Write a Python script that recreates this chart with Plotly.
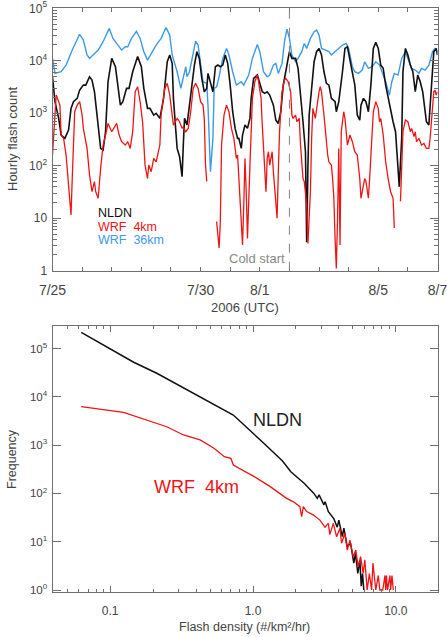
import pandas as pd
import plotly.graph_objects as go

# ---------------- data: top panel (hours since 2006-07-25 00 UTC, hourly flash count) -------------
blue_hours = [0, 2, 7, 11, 16, 20, 22, 25, 28, 30,
              33, 37, 41, 46, 49, 53, 56, 59, 61, 64,
              68, 71, 74, 77, 80, 84, 88, 92, 95, 97,
              101, 104, 108, 109, 111, 114, 116, 118, 120, 122,
              125, 126, 128, 130, 131, 133, 135, 138, 141, 143,
              146, 149, 153, 155, 159, 162, 166, 168, 171, 174,
              176, 179, 181, 183, 186, 188, 190, 192, 194, 197,
              199, 202, 204, 206, 209, 212, 214, 216, 218, 221,
              224, 226, 229, 232, 235, 238, 240, 243, 245, 248,
              251, 253, 256, 259, 262, 265, 267, 270, 273, 275,
              277, 280, 283, 286, 288, 291, 294, 297, 299, 302,
              305, 308, 310, 312]
blue_counts = [11100, 5750, 6180, 8280, 16000, 26700, 32000, 24900, 12900, 11100,
               12900, 16000, 23100, 41400, 26700, 19900, 16000, 18500, 18500, 26700,
               36500, 26700, 14900, 10300, 13900, 19900, 26700, 43000, 30900, 12900,
               6180, 2980, 7700, 4970, 6180, 13900, 23700, 19900, 9590, 3990,
               3710, 1430, 77, 332, 2980, 3200, 4970, 11100, 17200, 12900,
               6180, 3440, 3990, 3440, 5350, 11100, 20500, 14900, 6180, 4970,
               5350, 8280, 8920, 5750, 8920, 23100, 40000, 26700, 12900, 9590,
               11100, 14900, 21400, 17200, 26700, 35700, 38400, 30900, 17200, 16000,
               14900, 12900, 14900, 17200, 19900, 21400, 17200, 7700, 6180, 5750,
               6650, 9590, 7160, 7700, 9590, 8280, 6180, 3990, 2220, 3990,
               5750, 5350, 11100, 14900, 11100, 7160, 6650, 5750, 7160, 6650,
               8280, 14900, 17200, 14900]

black_hours = [0, 2, 5, 7, 10, 13, 15, 17, 20, 22,
               25, 27, 30, 32, 34, 36, 39, 41, 43, 45,
               48, 51, 53, 55, 57, 60, 62, 65, 69, 72,
               74, 77, 79, 82, 84, 87, 90, 93, 95, 97,
               98, 101, 103, 105, 106, 107, 109, 111, 113, 115,
               117, 119, 121, 123, 125, 126, 128, 129, 130, 132,
               134, 136, 138, 140, 142, 144, 146, 148, 150, 151,
               153, 154, 156, 158, 160, 161, 163, 166, 168, 170,
               172, 174, 176, 179, 181, 183, 185, 187, 189, 192,
               194, 197, 199, 201, 203, 205, 206, 207, 208, 210,
               212, 214, 216, 218, 220, 222, 224, 226, 229, 230,
               232, 235, 237, 239, 240, 243, 245, 247, 249, 250,
               252, 254, 256, 258, 260, 262, 264, 266, 268, 270,
               272, 275, 276, 278, 280, 281, 283, 284, 286, 288,
               290, 292, 294, 296, 298, 300, 302, 303, 305, 307,
               309, 311, 312]
black_counts = [4970, 1660, 798, 385, 332, 479, 1240, 1660, 1920, 2770,
                3440, 3440, 4970, 4290, 2570, 925, 214, 199, 445, 3990,
                11100, 7700, 2980, 1430, 1660, 2980, 2980, 6180, 12000, 7700,
                2980, 1240, 1240, 925, 995, 798, 1920, 9590, 12900, 8920,
                1920, 214, 149, 62, 248, 798, 596, 1660, 3440, 8280,
                14900, 11100, 4610, 2570, 2980, 5750, 3990, 3440, 2570, 7700,
                8280, 7700, 8280, 12900, 8920, 3440, 1070, 515, 332, 332,
                214, 385, 596, 515, 798, 1920, 4610, 5350, 3710, 2570,
                2390, 2570, 2220, 1430, 742, 641, 1070, 3440, 6180, 14900,
                11100, 11100, 7160, 2570, 690, 185, 3.5, 100, 925, 2980,
                9590, 14900, 17200, 12900, 6180, 3710, 3440, 1920, 1660, 1070,
                1660, 6180, 17200, 18500, 13900, 6180, 3440, 925, 742, 1430,
                1920, 1660, 1070, 3440, 17200, 22400, 17200, 8280, 7160, 3440,
                1920, 798, 690, 445, 103, 40, 332, 6180, 17200, 12900,
                8280, 6180, 2570, 5350, 3990, 2570, 1070, 690, 596, 3440,
                14900, 17200, 12900]

red_hours = [0, 3, 6, 7, 9, 11, 13, 15, 16, 18,
             20, 22, 24, 25, 28, 30, 32, 34, 35, 37,
             39, 41, 43, 45, 48, 50, 52, 54, 56, 59,
             61, 63, 65, 67, 69, 71, 73, 75, 77, 78,
             80, 82, 84, 87, 88, 91, 93, 95, 97, 98,
             101, 103, 105, 106, 108, 110, 112, 114, 116, 118,
             120, 122, 123, 124, 125, 128, 133, 134, 135, 136,
             137, 139, 141, 143, 145, 147, 149, 150, 151, 153,
             154, 155, 156, 157, 158, 160, 161, 162, 164, 166,
             167, 169, 170, 171, 173, 174, 175, 176, 178, 179,
             181, 182, 183, 184, 186, 188, 189, 191, 193, 194,
             195, 197, 198, 200, 201, 203, 204, 206, 207, 209,
             210, 211, 213, 214, 216, 217, 218, 220, 222, 223,
             224, 226, 227, 228, 229, 230, 231, 232, 233, 234,
             236, 237, 239, 240, 241, 243, 245, 247, 249, 250,
             251, 253, 254, 256, 257, 259, 260, 262, 264, 265,
             266, 268, 270, 272, 274, 276, 277, 279, 282, 283,
             284, 286, 288, 290, 291, 293, 294, 295, 297, 299,
             301, 303, 305, 306, 308, 309, 310, 311, 312]
red_counts = [160, 2220, 1430, 385, 332, 160, 43, 11.5, 57, 1070,
              1430, 1660, 925, 515, 214, 67, 32, 50, 32, 24,
              89, 248, 385, 641, 445, 554, 641, 385, 287, 248,
              287, 214, 445, 2570, 3200, 1660, 690, 103, 57, 103,
              77, 138, 119, 248, 925, 2980, 3710, 2220, 1070, 596,
              798, 690, 515, 554, 445, 515, 1070, 2980, 3710, 2980,
              1660, 1430, 798, 103, 50, None, 8.6, 4.1, 2.7, 8.6,
              248, 925, 1430, 1070, 515, 332, 138, 160, 57, 13,
              3.1, 18, 138, 32, 4.1, 103, 445, 1920, 3990, 5350,
              3990, 1920, 596, 248, 32, 138, 185, 103, 185, 77,
              18, 10, 77, 445, 2570, 4290, 4610, 3990, 2570, 925,
              798, 925, 690, 798, 248, 57, 50, 18, 3.3, 32,
              332, 1240, 798, 1240, 2570, 3200, 2570, 925, 214, 160,
              119, 103, 57, 24, 4.1, 1.1, 10, 214, 3.1, 445,
              1070, 798, 248, 332, 385, 287, 185, 160, 57, 24,
              32, 57, 50, 24, 57, 332, 1070, 1660, 1240, 690,
              798, 385, 119, 57, 32, 24, 6.5, None, 21, 160,
              445, 742, 690, 445, 515, 358, 445, 287, 332, 248,
              267, 214, 214, 332, 1430, 2570, 2770, 2220, 2570]

start_date = "2006-07-25"
cold_start = "2006-08-02 00:00"
day_labels = ["7/25", "", "", "", "", "7/30", "", "8/1", "", "", "", "8/5", "", "8/7"]
top_y_ticks = [1, 10, 100, 1000, 10000, 100000]
top_y_text = ["1", "10", "10<sup>2</sup>", "10<sup>3</sup>", "10<sup>4</sup>", "10<sup>5</sup>"]

# ---------------- data: bottom panel (flash density histogram) -------------
nldn_density = [0.0627, 0.146, 0.212, 0.43, 0.728, 1.19, 1.33, 1.61, 1.84, 2.28,
                2.67, 2.82, 2.9, 3.14, 3.2, 3.37, 3.68, 3.89, 3.99, 4.22,
                4.33, 4.57, 4.82, 5.08, 5.22, 5.42, 5.6, 5.73, 5.85, 5.97]
nldn_freq = [216000, 52000, 30700, 10000, 4200, 1090, 790, 470, 281, 162,
             100, 79, 93, 58, 67, 42, 30, 20, 28, 12.7,
             19, 7.9, 9.3, 3.6, 5.7, 2.2, 4.2, 1.2, 2.2, 1]

wrf4_density = [0.0627, 0.124, 0.249, 0.326, 0.426, 0.533, 0.63, 0.70, 0.728, 1.02,
                1.32, 1.55, 1.72, 1.92, 2.13, 2.19, 2.25, 2.38, 2.64, 2.94,
                3.19, 3.37, 3.45, 3.65, 3.85, 4.06, 4.17, 4.4, 4.57, 4.77,
                5.03, 5.25, 5.45, 5.67, 5.91, 6.07, 6.3, 6.53, 6.77, 6.92,
                7.24, 7.54, 7.73, 8.1, 8.4, 8.5, 8.6, 8.75, 9.1, 9.2,
                9.4, 9.6]
wrf4_freq = [6240, 4780, 2400, 1620, 1280, 860, 575, 533, 387, 222,
             138, 100, 79, 67, 53, 33, 53, 42, 36, 28,
             20, 24, 14, 24, 12.7, 19, 9.3, 15, 6.7, 10.8,
             4.9, 6.7, 3.0, 4.9, 2.2, 4.2, 1, 2.2, 1, 3.6,
             1, 2, 1, 1, 2, 1, 2, 1, 2, 1,
             2, 1]

bot_y_ticks = [1, 10, 100, 1000, 10000, 100000]
bot_y_text = ["10<sup>0</sup>", "10<sup>1</sup>", "10<sup>2</sup>", "10<sup>3</sup>",
              "10<sup>4</sup>", "10<sup>5</sup>"]
bot_x_ticks = [0.1, 1, 10]
bot_x_text = ["0.1", "1.0", "10.0"]

# ---------------- styling ----------------
BLACK = "#111111"
RED = "#f01414"
BLUE = "#3c9ae8"
AXC = "#707070"
TXT = "#444444"
FONT = "Liberation Sans"
W, H = 447, 637

base = pd.Timestamp(start_date)


def to_time(hours):
    return [base + pd.Timedelta(hours=h) for h in hours]


day_ticks = [base + pd.Timedelta(days=d) for d in range(len(day_labels))]
top_minor = [m * 10 ** e for e in range(0, 5) for m in range(2, 10)]
bot_x_minor = [m * 10 ** e for e in (-2, -1, 0) for m in range(2, 10)]

fig = go.Figure()
fig.add_trace(go.Scatter(x=to_time(blue_hours), y=blue_counts, mode="lines",
                         line=dict(color=BLUE, width=1.4), xaxis="x", yaxis="y"))
fig.add_trace(go.Scatter(x=to_time(black_hours), y=black_counts, mode="lines",
                         line=dict(color=BLACK, width=1.6), xaxis="x", yaxis="y"))
fig.add_trace(go.Scatter(x=to_time(red_hours), y=red_counts, mode="lines",
                         line=dict(color=RED, width=1.3), xaxis="x", yaxis="y"))
fig.add_trace(go.Scatter(x=nldn_density, y=nldn_freq, mode="lines",
                         line=dict(color=BLACK, width=1.5), xaxis="x2", yaxis="y2"))
fig.add_trace(go.Scatter(x=wrf4_density, y=wrf4_freq, mode="lines",
                         line=dict(color=RED, width=1.3), xaxis="x2", yaxis="y2"))

xdom = [52.5 / W, 437.5 / W]
common = dict(showline=True, linecolor=AXC, linewidth=1, mirror="allticks", ticks="inside",
              tickcolor=AXC, tickwidth=1, showgrid=False, zeroline=False,
              automargin=False, ticklabeloverflow="allow")
small_font = dict(family=FONT, size=12, color=TXT)

fig.update_layout(
    template="none",
    width=W, height=H, margin=dict(l=0, r=0, t=0, b=0, pad=0),
    paper_bgcolor="white", plot_bgcolor="white", showlegend=False,
    font=dict(family=FONT, color=TXT),
    xaxis=dict(domain=xdom, anchor="y", type="date",
               range=[day_ticks[0], day_ticks[-1]],
               tickmode="array", tickvals=day_ticks, ticktext=day_labels, ticklen=4,
               ticklabelstandoff=6, tickfont=dict(family=FONT, size=14, color=TXT),
               **common),
    yaxis=dict(domain=[1 - 270.7 / H, 1 - 8.3 / H], anchor="x", type="log", range=[0, 5],
               tickmode="array", tickvals=top_y_ticks, ticktext=top_y_text, ticklen=8,
               ticklabelstandoff=2, tickfont=small_font,
               minor=dict(tickmode="array", tickvals=top_minor, ticks="inside", ticklen=4,
                          tickcolor=AXC, showgrid=False),
               **common),
    xaxis2=dict(domain=xdom, anchor="y2", type="log", range=[-1.404, 1.292],
                tickmode="array", tickvals=bot_x_ticks, ticktext=bot_x_text, ticklen=6,
                tickfont=small_font,
                minor=dict(tickmode="array", tickvals=bot_x_minor, ticks="inside", ticklen=3,
                           tickcolor=AXC, showgrid=False),
                ticklabelstandoff=8, **common),
    yaxis2=dict(domain=[1 - 591.7 / H, 1 - 326 / H], anchor="x2", type="log",
                range=[-0.035, 5.466], tickfont=dict(family=FONT, size=11.5, color=TXT),
                tickmode="array", tickvals=bot_y_ticks, ticktext=bot_y_text, ticklen=8,
                ticklabelstandoff=2, **common),
)

fig.add_shape(type="line", xref="x", yref="y domain", x0=cold_start, x1=cold_start,
              y0=0, y1=1, line=dict(color="#808080", width=1, dash="dash"))


def note(text, x, y, size, color=TXT, xanchor="center", angle=0):
    fig.add_annotation(text=text, x=x / W, y=1 - y / H, xref="paper", yref="paper",
                       showarrow=False, xanchor=xanchor, yanchor="middle", textangle=angle,
                       borderpad=0, font=dict(family=FONT, size=size, color=color))


note("Hourly flash count", 12.5, 139.5, 13, angle=-90)
note("2006 (UTC)", 245, 307.5, 13)
note("Frequency", 12, 459, 12.5, angle=-90)
note("Flash density (#/km\u00b2/hr)", 244, 626.5, 12.5)
note("NLDN", 96.7, 212.5, 12.5, BLACK, "left")
note("WRF\u00a0\u00a04km", 96.7, 227, 12.5, RED, "left")
note("WRF\u00a0\u00a036km", 96.7, 240.5, 12.5, BLUE, "left")
note("Cold start", 286, 258.3, 13, "#888888", "right")
note("NLDN", 252, 420, 18, "#222222", "left")
note("WRF\u00a0\u00a04km", 153.3, 486.7, 18, RED, "left")

fig.write_html("out.html")
